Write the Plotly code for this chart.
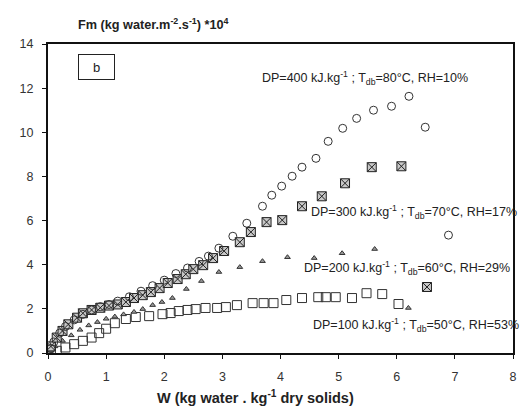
import plotly.graph_objects as go

# DP=400 kJ/kg ; Tdb=80°C, RH=10%  (open circles)
w_400 = [0.05, 0.1, 0.2, 0.3, 0.45, 0.6, 0.75, 0.9, 1.05, 1.2, 1.4, 1.6, 1.8, 2.0, 2.2, 2.4, 2.6,
         2.76, 2.94, 3.18, 3.42, 3.69, 3.85, 4.02, 4.20, 4.37, 4.61, 4.82, 5.07, 5.31, 5.60, 5.91, 6.21, 6.49, 6.89]
fm_400 = [0.2, 0.5, 0.9, 1.2, 1.5, 1.75, 1.95, 2.1, 2.2, 2.35, 2.55, 2.8, 3.05, 3.3, 3.6, 3.85, 4.15,
          4.39, 4.75, 5.29, 5.88, 6.65, 7.15, 7.56, 8.01, 8.42, 8.82, 9.59, 10.18, 10.63, 11.0, 11.18, 11.63, 10.23, 5.34]

# DP=300 kJ/kg ; Tdb=70°C, RH=17%  (boxed crosses)
w_300 = [0.05, 0.15, 0.25, 0.35, 0.5, 0.6, 0.75, 0.9, 1.05, 1.2, 1.34, 1.48, 1.63, 1.77, 1.92, 2.06, 2.23,
         2.37, 2.50, 2.67, 2.84, 3.03, 3.30, 3.49, 3.76, 4.03, 4.37, 4.71, 5.11, 5.57, 6.08, 6.52]
fm_300 = [0.3, 0.7, 1.0, 1.3, 1.6, 1.8, 1.95, 2.05, 2.15, 2.2, 2.31, 2.49, 2.62, 2.76, 2.94, 3.17, 3.35,
          3.57, 3.80, 3.98, 4.30, 4.62, 5.02, 5.48, 5.93, 6.02, 6.65, 7.10, 7.69, 8.42, 8.46, 2.99]

# DP=200 kJ/kg ; Tdb=60°C, RH=29%  (triangles)
w_200 = [0.05, 0.12, 0.25, 0.4, 0.55, 0.7, 0.85, 1.0, 1.15, 1.3, 1.48, 1.63, 1.80, 1.96, 2.14, 2.38,
         2.64, 2.94, 3.30, 3.69, 4.12, 4.58, 5.06, 5.62, 6.20]
fm_200 = [0.1, 0.3, 0.55, 0.8, 1.05, 1.25, 1.4, 1.55, 1.65, 1.75, 1.86, 1.99, 2.17, 2.31, 2.49, 2.90,
          3.26, 3.67, 3.89, 4.16, 4.34, 4.30, 4.52, 4.71, 2.04]

# DP=100 kJ/kg ; Tdb=50°C, RH=53%  (open squares)
w_100 = [0.05, 0.15, 0.3, 0.45, 0.6, 0.75, 0.88, 1.0, 1.15, 1.34, 1.51, 1.74, 1.97, 2.11, 2.25, 2.40,
         2.54, 2.71, 2.91, 3.06, 3.25, 3.52, 3.71, 3.88, 4.10, 4.37, 4.65, 4.78, 4.95, 5.23, 5.48, 5.75, 6.03]
fm_100 = [0.05, 0.1, 0.25, 0.4, 0.55, 0.7, 0.9, 1.1, 1.35, 1.54, 1.63, 1.67, 1.76, 1.81, 1.90, 1.95,
          1.99, 2.04, 2.04, 2.08, 2.17, 2.26, 2.26, 2.26, 2.40, 2.49, 2.53, 2.53, 2.53, 2.49, 2.71, 2.67, 2.22]

x_ticks = [0, 1, 2, 3, 4, 5, 6, 7, 8]
y_ticks = [0, 2, 4, 6, 8, 10, 12, 14]

labels = [
    (3.64, 12.44, "DP=400 kJ.kg<sup>-1</sup> ; T<sub>db</sub>=80°C, RH=10%"),
    (4.49, 6.38, "DP=300 kJ.kg<sup>-1</sup> ; T<sub>db</sub>=70°C, RH=17%"),
    (4.37, 3.85, "DP=200 kJ.kg<sup>-1</sup> ; T<sub>db</sub>=60°C, RH=29%"),
    (4.53, 1.27, "DP=100 kJ.kg<sup>-1</sup> ; T<sub>db</sub>=50°C, RH=53%"),
]

fig = go.Figure()
fig.add_trace(go.Scatter(x=w_100, y=fm_100, mode="markers", name="DP=100",
                         marker=dict(symbol="square-open", size=9, color="#333333", line=dict(width=1))))
fig.add_trace(go.Scatter(x=w_200, y=fm_200, mode="markers", name="DP=200",
                         marker=dict(symbol="triangle-up", size=5, color="#999999",
                                     line=dict(width=1, color="#333333"))))
fig.add_trace(go.Scatter(x=w_300, y=fm_300, mode="markers", name="DP=300",
                         marker=dict(symbol="square-x", size=9, color="#c8c8c8",
                                     line=dict(width=1, color="#222222"))))
fig.add_trace(go.Scatter(x=w_400, y=fm_400, mode="markers", name="DP=400",
                         marker=dict(symbol="circle-open", size=8, color="#333333", line=dict(width=1))))

for x, y, t in labels:
    fig.add_annotation(x=x, y=y, xref="x", yref="y", text=t, showarrow=False,
                       xanchor="left", yanchor="middle",
                       font=dict(family="Arial", size=12.5, color="#222222"))

fig.add_annotation(x=0.83, y=12.94, xref="x", yref="y", text="b", showarrow=False,
                   width=33, height=22, bordercolor="#222222", borderwidth=1,
                   bgcolor="white", font=dict(family="Arial", size=13, color="#222222"))

fig.add_annotation(x=0, y=1, xref="paper", yref="paper", xanchor="left", yanchor="bottom",
                   xshift=28, yshift=10, showarrow=False,
                   text="<b>Fm (kg water.m<sup>-2</sup>.s<sup>-1</sup>) *10<sup>4</sup></b>",
                   font=dict(family="Arial", size=12.7, color="#222222"))
fig.add_annotation(x=0.447, y=0, xref="paper", yref="paper", xanchor="center", yanchor="top",
                   yshift=-33, showarrow=False,
                   text="<b>W (kg water . kg<sup>-1</sup> dry solids)</b>",
                   font=dict(family="Arial", size=14.5, color="#222222"))

axis_common = dict(showline=True, linewidth=2, linecolor="#111111", mirror=True,
                   showgrid=False, zeroline=False, ticks="outside", ticklen=4,
                   tickcolor="#111111", tickfont=dict(family="Arial", size=12.5, color="#333333"))

fig.update_xaxes(range=[0, 8], tickvals=x_ticks, ticklabelstandoff=7, **axis_common)
fig.update_yaxes(range=[0, 14], tickvals=y_ticks, ticklabelstandoff=6, **axis_common)

# page body has an 8px default margin; size/margins compensate for it
fig.update_layout(width=521, height=399, margin=dict(l=38, r=12, t=36, b=54),
                  plot_bgcolor="white", paper_bgcolor="white", showlegend=False)

fig.write_html("out.html")
